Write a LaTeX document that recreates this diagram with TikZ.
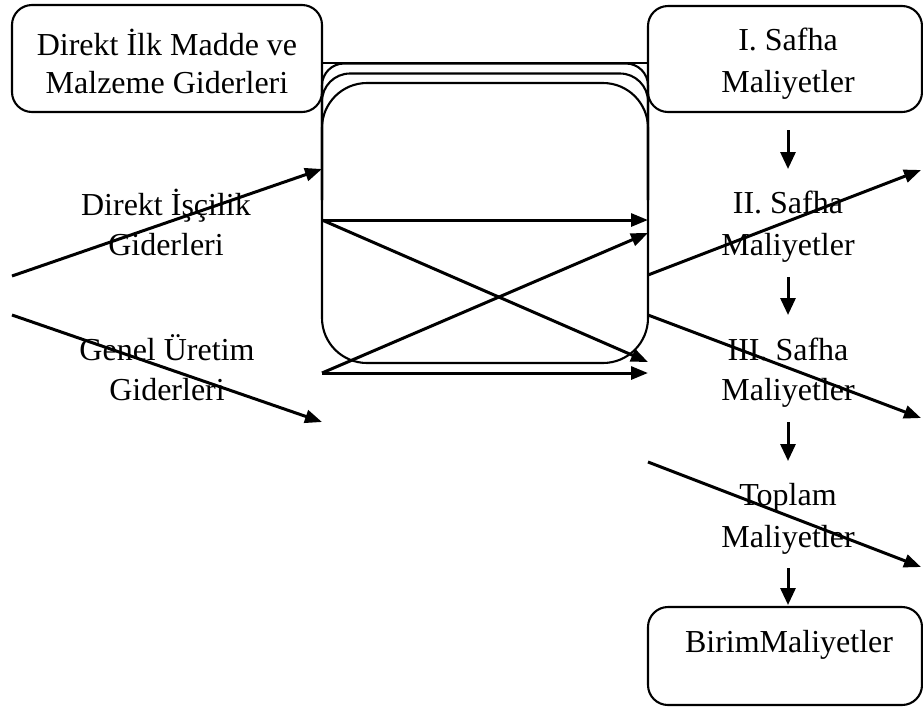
\documentclass[tikz,border=0pt]{standalone}
\usepackage{fontspec}
\setmainfont{Liberation Serif}
\usetikzlibrary{arrows.meta}
\begin{document}
\begin{tikzpicture}[x=1pt,y=-1pt,
  box/.style={draw,line width=2.1pt,rounded corners=20pt,inner sep=0pt},
  lbl/.style={align=center,inner sep=0pt,font=\fontsize{32}{40}\selectfont},
  arr/.style={line width=3pt,-{Triangle[length=17pt,width=13pt]}},
  darr/.style={line width=3pt,-{Triangle[length=17pt,width=15pt]}},
  frame/.style={line width=2.1pt}]
\useasboundingbox (0,0) rectangle (923,713);
% boxes
\node[box,minimum width=310pt,minimum height=107pt] (boxA) at (167,58.5) {};
\node[box,minimum width=274pt,minimum height=106pt] (boxI) at (785,59) {};
\node[box,minimum width=274pt,minimum height=98pt] (boxB) at (785,656) {};
% center stacked frames
\draw[frame] (322,62.7) -- (648,62.7);
\draw[frame,rounded corners=22pt] (322,200) -- (322,63.5) -- (648,63.5) -- (648,200);
\draw[frame,rounded corners=28pt] (322,200) -- (322,73.5) -- (648,73.5) -- (648,200);
\node[draw,line width=2.1pt,rounded corners=45pt,minimum width=326pt,minimum height=280pt,inner sep=0pt] (mid) at (485,223) {};
% texts
\node[lbl,font=\fontsize{32}{38}\selectfont] (tA) at (167,66.4) {\strut Direkt İlk Madde ve\\\strut Malzeme Giderleri};
\node[lbl,font=\fontsize{32}{42}\selectfont] (tI) at (788,62.6) {\strut I. Safha\\\strut Maliyetler};
\node[lbl] (tDI) at (166,227) {\strut Direkt İşçilik\\\strut Giderleri};
\node[lbl] (tGU) at (167,372) {\strut Genel Üretim\\\strut Giderleri};
\node[lbl,font=\fontsize{32}{42}\selectfont] (tII) at (788,225.6) {\strut II. Safha\\\strut Maliyetler};
\node[lbl] (tIII) at (788,372) {\strut III. Safha\\\strut Maliyetler};
\node[lbl,font=\fontsize{32}{42}\selectfont] (tT) at (788,517.6) {\strut Toplam\\\strut Maliyetler};
\node[lbl] (tB) at (789,644) {\strut BirimMaliyetler};
% coordinates
\coordinate (a1s) at (12,276);  \coordinate (a1e) at (322,169);
\coordinate (a2s) at (12,315);  \coordinate (a2e) at (322,422);
\coordinate (h1s) at (322,220); \coordinate (h1e) at (648,220);
\coordinate (d1e) at (648,362);
\coordinate (h2s) at (322,373); \coordinate (h2e) at (648,373);
\coordinate (d2e) at (648,233);
\coordinate (r1s) at (648,275); \coordinate (r1e) at (921,170);
\coordinate (r2s) at (648,315); \coordinate (r2e) at (921,418);
\coordinate (r3s) at (648,462); \coordinate (r3e) at (921,567);
\coordinate (v1s) at (788,130); \coordinate (v1e) at (788,169);
\coordinate (v2s) at (788,277); \coordinate (v2e) at (788,315);
\coordinate (v3s) at (788,422); \coordinate (v3e) at (788,461);
\coordinate (v4s) at (788,568); \coordinate (v4e) at (788,605);
% arrows
\draw[arr] (a1s) -- (a1e);
\draw[arr] (a2s) -- (a2e);
\draw[arr] (h1s) -- (h1e);
\draw[arr] (h1s) -- (d1e);
\draw[arr] (h2s) -- (d2e);
\draw[arr] (h2s) -- (h2e);
\draw[arr] (r1s) -- (r1e);
\draw[arr] (r2s) -- (r2e);
\draw[arr] (r3s) -- (r3e);
\draw[darr] (v1s) -- (v1e);
\draw[darr] (v2s) -- (v2e);
\draw[darr] (v3s) -- (v3e);
\draw[darr] (v4s) -- (v4e);
\end{tikzpicture}
\end{document}
